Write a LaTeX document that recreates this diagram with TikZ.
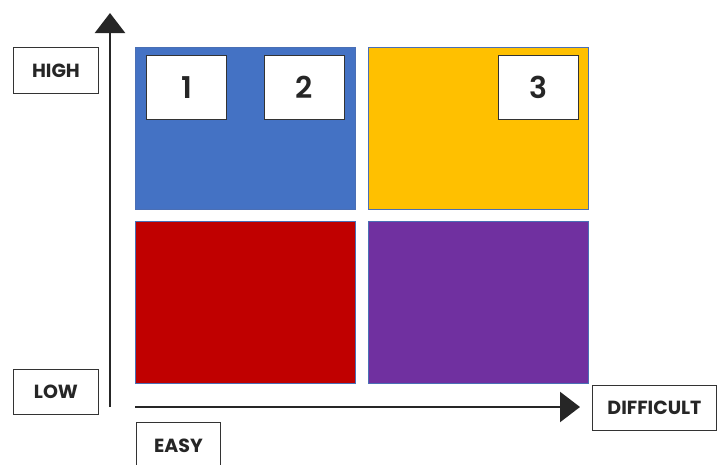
\documentclass[tikz,border=0pt]{standalone}
\usepackage{fontspec}
\setmainfont{Poppins}
\newfontfamily\numfont{Poppins SemiBold}
\usepackage{tikz}
\usepackage{xcolor}
\usetikzlibrary{arrows.meta,positioning}
\definecolor{quadblue}{HTML}{4472C4}
\definecolor{quadyellow}{HTML}{FFC000}
\definecolor{quadred}{HTML}{C00000}
\definecolor{quadpurple}{HTML}{7030A0}
\definecolor{quadedge}{HTML}{4A6FB5}

\begin{document}
\begin{tikzpicture}[
  x=1pt, y=-1pt,
  quad/.style={draw=quadedge, line width=0.8pt, anchor=north west, inner sep=0pt, minimum width=220pt, minimum height=162pt},
  numbox/.style={draw=black!80, fill=white, line width=0.9pt, anchor=north west, minimum width=80pt, minimum height=64pt, text=black!85, font=\numfont\fontsize{30}{30}\selectfont},
  axislabel/.style={draw=black!80, fill=white, line width=0.9pt, anchor=north west, inner sep=0pt, text=black!85, font=\bfseries\fontsize{19}{19}\selectfont},
  axis/.style={-{Triangle[length=20pt, width=30pt]}, line width=2.5pt, draw=black!85}
]
\useasboundingbox (0,0) rectangle (718,464);

% quadrants
\node[quad, fill=quadblue] (hieasy) at (135,47) {};
\node[quad, fill=quadyellow] (hidiff) at (368,47) {};
\node[quad, fill=quadred] (loeasy) at (135,221) {};
\node[quad, fill=quadpurple] (lodiff) at (368,221) {};

% numbered items
\node[numbox] (one) at (146,55) {1};
\node[numbox] (two) at (264,55) {2};
\node[numbox] (three) at (498,55) {3};

% axes
\coordinate (ybase) at (110,407);
\coordinate (ytip) at (110,13);
\coordinate (xbase) at (135,407);
\coordinate (xtip) at (580,407);
\draw[axis] (ybase) -- (ytip);
\draw[axis] (xbase) -- (xtip);

% axis labels
\node[axislabel, minimum width=85pt, minimum height=46pt] (high) at (13,47) {HIGH};
\node[axislabel, minimum width=85pt, minimum height=45pt] (low) at (13,369) {LOW};
\node[axislabel, minimum width=84pt, minimum height=46pt] (easy) at (136,422) {EASY};
\node[axislabel, minimum width=124pt, minimum height=45pt] (difficult) at (592,385) {DIFFICULT};
\end{tikzpicture}
\end{document}
